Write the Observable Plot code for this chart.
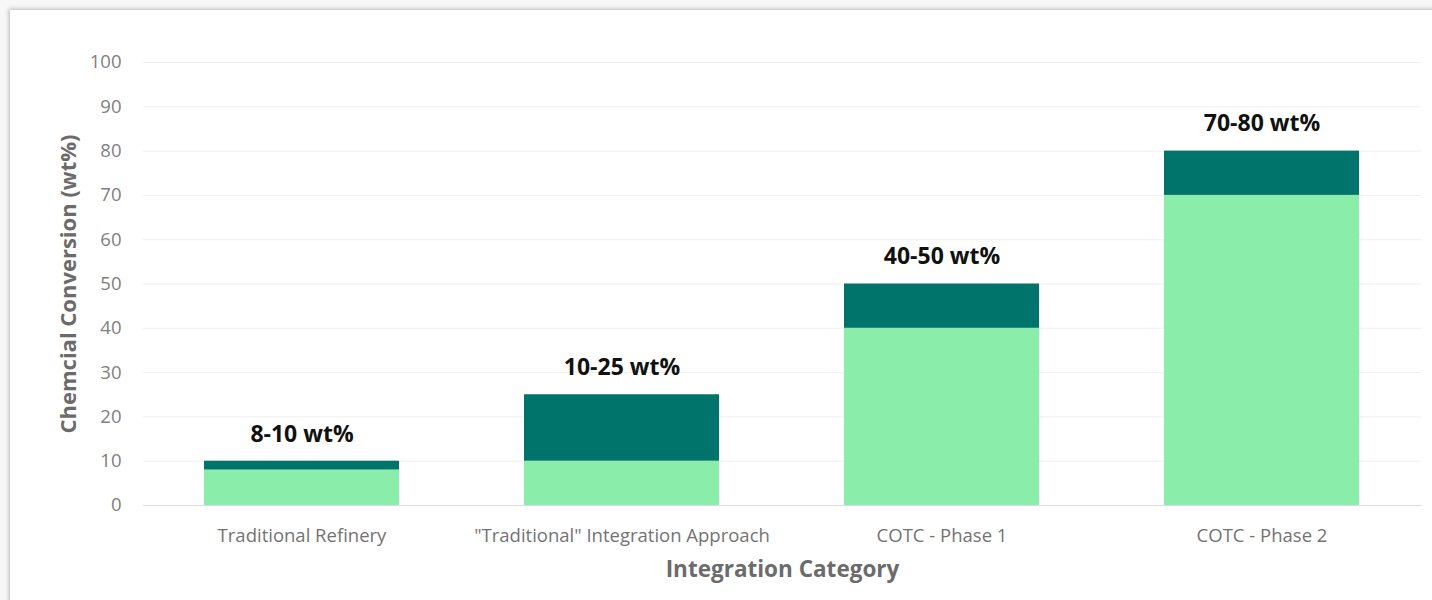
<!DOCTYPE html>
<html>
<head>
<meta charset="utf-8">
<script src="https://cdn.jsdelivr.net/npm/d3@7"></script>
<script src="https://cdn.jsdelivr.net/npm/@observablehq/plot@0.6"></script>
<style>
  html, body { margin: 0; padding: 0; background: #f7f7f7; width: 1432px; height: 600px; overflow: hidden; }
  #card {
    position: absolute; left: 10px; top: 10px; width: 1460px; height: 620px;
    background: #ffffff; box-shadow: -1px -1px 4px rgba(0,0,0,0.25);
  }
  #chart { position: absolute; left: 0; top: 0; }
  #chart svg { font-family: "Open Sans", "Noto Sans", sans-serif; overflow: visible; }
</style>
</head>
<body>
<div id="card"></div>
<div id="chart"></div>
<script>
// Integration categories and the chemical conversion range for each (wt%)
const categories = [
  "Traditional Refinery",
  "\"Traditional\" Integration Approach",
  "COTC - Phase 1",
  "COTC - Phase 2"
];
const rangeLow = [8, 10, 40, 70];
const rangeHigh = [10, 25, 50, 80];
const rangeLabels = ["8-10 wt%", "10-25 wt%", "40-50 wt%", "70-80 wt%"];
const yTicks = [0, 10, 20, 30, 40, 50, 60, 70, 80, 90, 100];

const rows = categories.map((c, i) => ({
  category: c, low: rangeLow[i], high: rangeHigh[i], label: rangeLabels[i]
}));

const chart = Plot.plot({
  width: 1432,
  height: 600,
  marginLeft: 143,
  marginRight: 11,
  marginTop: 62,
  marginBottom: 95,
  style: { fontFamily: "'Open Sans', 'Noto Sans', sans-serif", background: "transparent" },
  x: { domain: categories, paddingInner: 0.39, paddingOuter: 0.19, label: null },
  y: { domain: [0, 100], label: null },
  marks: [
    Plot.ruleY(yTicks.filter(d => d > 0), { stroke: "#efefef", strokeWidth: 1 }),
    Plot.ruleY([0], { stroke: "#dcdcdc", strokeWidth: 1 }),
    // lower bound of the range
    Plot.barY(rows, { x: "category", y1: 0, y2: "low", fill: "#8bedaa" }),
    // span between lower and upper bound
    Plot.barY(rows, { x: "category", y1: "low", y2: "high", fill: "#00746a" }),
    Plot.text(rows, {
      x: "category", y: "high", text: "label", dy: -27,
      fontSize: 23, fontWeight: "bold", fill: "#111"
    }),
    Plot.axisY({
      ticks: yTicks, tickSize: 0, tickPadding: 22, fontSize: 18.5,
      fill: "#808080", label: null
    }),
    Plot.axisX({
      tickSize: 0, tickPadding: 23, fontSize: 18.5, fill: "#737373", label: null
    }),
    Plot.text(["Integration Category"], {
      frameAnchor: "bottom", dy: 71, fontSize: 22.5, fontWeight: "bold", fill: "#6b6b6b"
    }),
    Plot.text(["Chemcial Conversion (wt%)"], {
      frameAnchor: "left", textAnchor: "middle", dx: -75, rotate: -90,
      fontSize: 22, fontWeight: "bold", fill: "#6b6b6b"
    })
  ]
});
document.getElementById("chart").appendChild(chart);
</script>
</body>
</html>
